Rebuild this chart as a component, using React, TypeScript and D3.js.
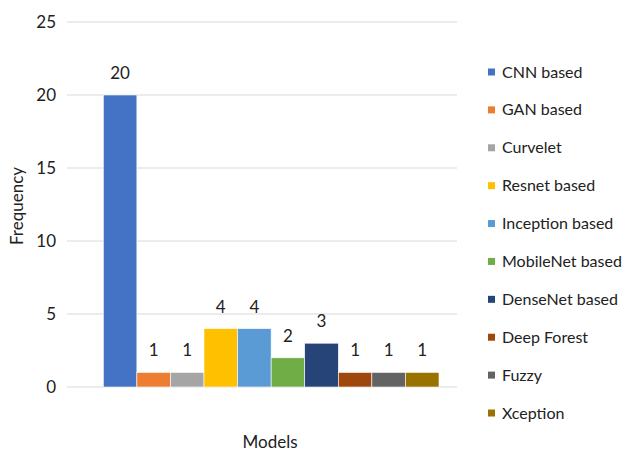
import React from "react";
import * as d3 from "d3";

const models = [
  "CNN based",
  "GAN based",
  "Curvelet",
  "Resnet based",
  "Inception based",
  "MobileNet based",
  "DenseNet based",
  "Deep Forest",
  "Fuzzy",
  "Xception",
];
const frequencies = [20, 1, 1, 4, 4, 2, 3, 1, 1, 1];
const colors = [
  "#4472C4",
  "#ED7D31",
  "#A5A5A5",
  "#FFC000",
  "#5B9BD5",
  "#70AD47",
  "#264478",
  "#9E480E",
  "#636363",
  "#997300",
];
const yTicks = [0, 5, 10, 15, 20, 25];
const categoryLabel = "Models";
const yLabel = "Frequency";

const W = 627;
const H = 452;
const FONT = "Lato, 'Open Sans', sans-serif";

export default function App() {
  const y = d3.scaleLinear().domain([0, 25]).range([387, 22]);
  const x = d3.scaleBand<string>().domain(models).range([103.3, 439]).padding(0);
  const legendY = d3.scalePoint<string>().domain(models).range([72, 413]);

  return (
    <svg
      width={W}
      height={H}
      style={{ position: "absolute", left: 0, top: 0, background: "#fff" }}
      fontFamily={FONT}
    >
      {yTicks.map((t) => (
        <g key={t}>
          <line x1={67} x2={457} y1={y(t)} y2={y(t)} stroke="#D9D9D9" strokeWidth={1.2} />
          <text x={56} y={y(t)} dy="0.35em" textAnchor="end" fontSize={17} fill="#222">
            {t}
          </text>
        </g>
      ))}
      {models.map((m, i) => (
        <g key={m}>
          <rect
            x={x(m)}
            y={y(frequencies[i])}
            width={x.bandwidth()}
            height={y(0) - y(frequencies[i])}
            fill={colors[i]}
            stroke="#fff"
            strokeWidth={0.6}
          />
          <text
            x={(x(m) as number) + x.bandwidth() / 2}
            y={y(frequencies[i]) - 22}
            dy="0.35em"
            textAnchor="middle"
            fontSize={17}
            fill="#222"
          >
            {frequencies[i]}
          </text>
        </g>
      ))}
      <text x={270} y={448} textAnchor="middle" fontSize={17} fill="#222">
        {categoryLabel}
      </text>
      <text
        transform={`translate(17,206) rotate(-90)`}
        dy="0.35em"
        textAnchor="middle"
        fontSize={17}
        fill="#222"
      >
        {yLabel}
      </text>
      {models.map((m, i) => (
        <g key={"lg" + m} transform={`translate(488,${legendY(m)})`}>
          <rect x={0} y={-3.5} width={7} height={7} fill={colors[i]} />
          <text x={14} y={0} dy="0.35em" fontSize={16} fill="#222">
            {m}
          </text>
        </g>
      ))}
    </svg>
  );
}
